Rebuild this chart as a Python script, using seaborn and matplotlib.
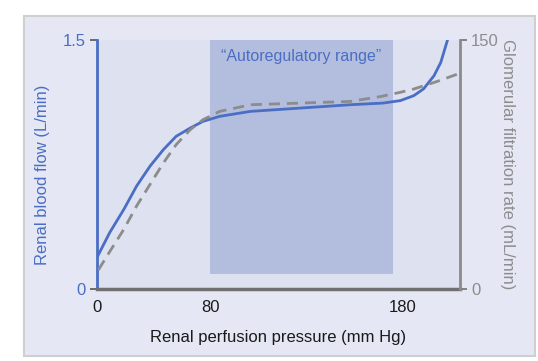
import matplotlib
matplotlib.use("Agg")
import matplotlib.pyplot as plt
from matplotlib.patches import Rectangle
import numpy as np
import pandas as pd
import seaborn as sns

# renal blood flow (L/min) vs perfusion pressure (mm Hg)
rbf_pressure = [0, 9, 19, 28, 37.5, 47, 56, 66, 75, 85, 101, 127, 153, 170, 179, 186, 191, 196.5, 200, 203.5]
rbf_flow = [0.19, 0.34, 0.48, 0.62, 0.74, 0.84, 0.92, 0.97, 1.01, 1.04, 1.07, 1.09, 1.11, 1.12, 1.135, 1.165, 1.205, 1.285, 1.365, 1.5]

# glomerular filtration rate (mL/min)
gfr_pressure = [1, 9, 19, 28, 37.5, 47, 56, 66, 75, 85, 101, 127, 153, 169, 179, 186, 198, 210]
gfr_rate = [11.5, 22.5, 36, 50, 63, 76, 87, 96, 102, 107, 111, 112, 113, 116, 118.5, 120.5, 125, 130]

autoreg_range = (80, 175)
autoreg_floor = 0.09
x_ticks = [0, 80, 180]

blue = "#4a6ec4"
gray = "#8c8c8c"

rbf = pd.DataFrame({"pressure": rbf_pressure, "flow": rbf_flow})
gfr = pd.DataFrame({"pressure": gfr_pressure, "gfr": gfr_rate})


# schematic x axis: 0-80 compressed, above 80 stretched
def fwd(p):
    p = np.asarray(p, float)
    return np.where(p < 80, p * 113 / 80, 113 + (p - 80) * 1.92)


def inv(u):
    u = np.asarray(u, float)
    return np.where(u < 113, u * 80 / 113, 80 + (u - 113) / 1.92)


sns.set_theme(style="white")
plt.rcParams["font.family"] = ["Liberation Sans", "DejaVu Sans"]

fig = plt.figure(figsize=(5.38, 3.61), dpi=100, facecolor="white")
fig.patches.append(Rectangle((24 / 538, 1 - 356 / 361), 511 / 538, 340 / 361,
                             transform=fig.transFigure, facecolor="#e5e8f4",
                             edgecolor="#cfcfcf", linewidth=1.5, zorder=-5))
ax = fig.add_axes([97 / 538, 1 - 289 / 361, 363 / 538, 249 / 361])
ax.set_facecolor("#dde1f0")
ax.set_xscale("function", functions=(fwd, inv))

ax.axvspan(*autoreg_range, ymin=autoreg_floor / 1.5, ymax=1, color="#b3bedf", lw=0, zorder=0)
ax.text(np.mean(autoreg_range), 1.4, "\u201cAutoregulatory range\u201d", color=blue,
        ha="center", va="center", fontsize=11.5)

sns.lineplot(data=rbf, x="pressure", y="flow", ax=ax, color=blue, lw=2)
ax2 = ax.twinx()
sns.lineplot(data=gfr, x="pressure", y="gfr", ax=ax2, color=gray, lw=2,
             linestyle=(0, (4, 2.5)))

ax.set_xlim(0, 210)
ax.set_ylim(0, 1.5)
ax2.set_ylim(0, 150)

ax.set_xticks(x_ticks)
ax.set_xticklabels([str(t) for t in x_ticks])
ax.set_yticks([0, 1.5])
ax.set_yticklabels(["0", "1.5"])
ax2.set_yticks([0, 150])
ax2.set_yticklabels(["0", "150"])
ax.minorticks_off()

ax.tick_params(axis="x", direction="out", length=5, width=1.2, color="#707070",
               labelsize=12, labelcolor="#1a1a1a", pad=3)
ax.tick_params(axis="y", direction="out", length=5, width=1.2, color="#555555",
               labelsize=12, labelcolor=blue, pad=3)
ax2.tick_params(axis="y", direction="out", length=5, width=1.2, color="#707070",
                labelsize=12, labelcolor=gray, pad=3)

for a in (ax, ax2):
    for s in a.spines.values():
        s.set_visible(False)
ax.spines["left"].set_visible(True)
ax.spines["left"].set_color(blue)
ax.spines["left"].set_linewidth(2)
ax.spines["bottom"].set_visible(True)
ax.spines["bottom"].set_color("#707070")
ax.spines["bottom"].set_linewidth(2.5)
ax2.spines["right"].set_visible(True)
ax2.spines["right"].set_color("#8a8a8a")
ax2.spines["right"].set_linewidth(2)

ax.set_xlabel("Renal perfusion pressure (mm Hg)", fontsize=12, color="#1a1a1a")
ax.xaxis.set_label_coords(0.5, -0.165)
ax.set_ylabel("Renal blood flow (L/min)", fontsize=12, color=blue)
ax.yaxis.set_label_coords(-0.13, 0.46)
ax2.set_ylabel("Glomerular filtration rate (mL/min)", fontsize=12, color=gray,
               rotation=-90, va="center")
ax2.yaxis.set_label_coords(1.132, 0.5)

fig.savefig("out.png", dpi=100)
